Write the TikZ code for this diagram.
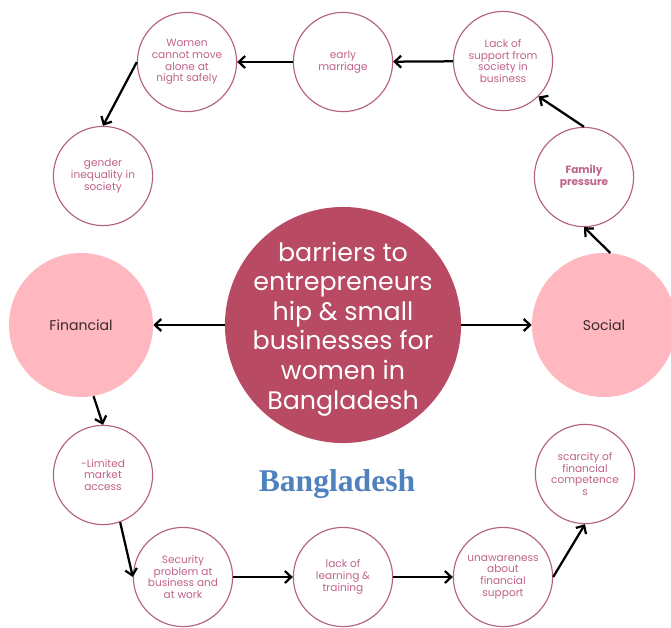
\documentclass[tikz,border=0pt]{standalone}
\usepackage{fontspec}
\setmainfont{Poppins}
\newfontfamily\titlefont{Liberation Serif}
\usetikzlibrary{arrows.meta}

\definecolor{rimrose}{HTML}{B5607E}
\definecolor{textrose}{HTML}{C0628A}
\definecolor{corerose}{HTML}{B94A63}
\definecolor{sidepink}{HTML}{FFB7C0}
\definecolor{sidetext}{HTML}{3A2A2E}
\definecolor{titleblue}{HTML}{4F81BD}

\begin{document}
\begin{tikzpicture}[x=0.025cm,y=-0.025cm,>={Straight Barb[length=4.5pt,width=8.5pt]},
  barrier/.style={circle,draw=rimrose,line width=0.8pt,minimum size=2.48cm,inner sep=0pt,
    align=center,text=textrose,font=\fontsize{7.5}{8.3}\selectfont},
  group/.style={circle,fill=sidepink,minimum size=3.6cm,inner sep=0pt,
    text=sidetext,font=\fontsize{10}{12}\selectfont},
  link/.style={->,line width=1.6pt}]
  \useasboundingbox[fill=white] (0,0) rectangle (671,627);

  % centre and the two groups
  \node[circle,fill=corerose,minimum size=5.9cm,inner sep=0pt] (core) at (343,325) {};
  \node[align=center,text=white,font=\fontsize{18}{21}\selectfont] (coretext) at (343,329)
    {barriers to\\entrepreneurs\\hip \& small\\businesses for\\women in\\Bangladesh};
  \node[group] (fin) at (81,325) {Financial};
  \node[group] (soc) at (604,325) {Social};

  % social side
  \node[barrier] (family) at (584,177) {\textbf{Family}\\\textbf{pressure}};
  \node[barrier] (support) at (503,61) {Lack of\\support from\\society in\\business};
  \node[barrier] (marriage) at (343,62) {early\\marriage};
  \node[barrier] (night) at (187,62) {Women\\cannot move\\alone at\\night safely};
  \node[barrier] (gender) at (103,176) {gender\\inequality in\\society};

  % financial side
  \node[barrier] (market) at (103,475) {-Limited\\market\\access};
  \node[barrier] (security) at (183,577) {Security\\problem at\\business and\\at work};
  \node[barrier] (learning) at (343,577) {lack of\\learning \&\\training};
  \node[barrier] (unaware) at (503,577) {unawareness\\about\\financial\\support};
  \node[barrier] (scarcity) at (585,474) {scarcity of\\financial\\competence\\s};

  \node[text=titleblue,font=\titlefont\bfseries\fontsize{22.5}{26}\selectfont] (country) at (337,484) {Bangladesh};

  \draw[link] (core.west) -- (fin.east);
  \draw[link] (core.east) -- (soc.west);
  \draw[link] (soc.85) -- (family.south);
  \draw[link] (family.north) -- (support.-45);
  \draw[link] (support) -- (marriage);
  \draw[link] (marriage) -- (night);
  \draw[link] (night.west) -- (gender.north);
  \draw[link] (fin.-80) -- (market.north);
  \draw[link] (market.-70) -- (security.west);
  \draw[link] (security) -- (learning);
  \draw[link] (learning) -- (unaware);
  \draw[link] (unaware.east) -- (scarcity.south);
\end{tikzpicture}
\end{document}
